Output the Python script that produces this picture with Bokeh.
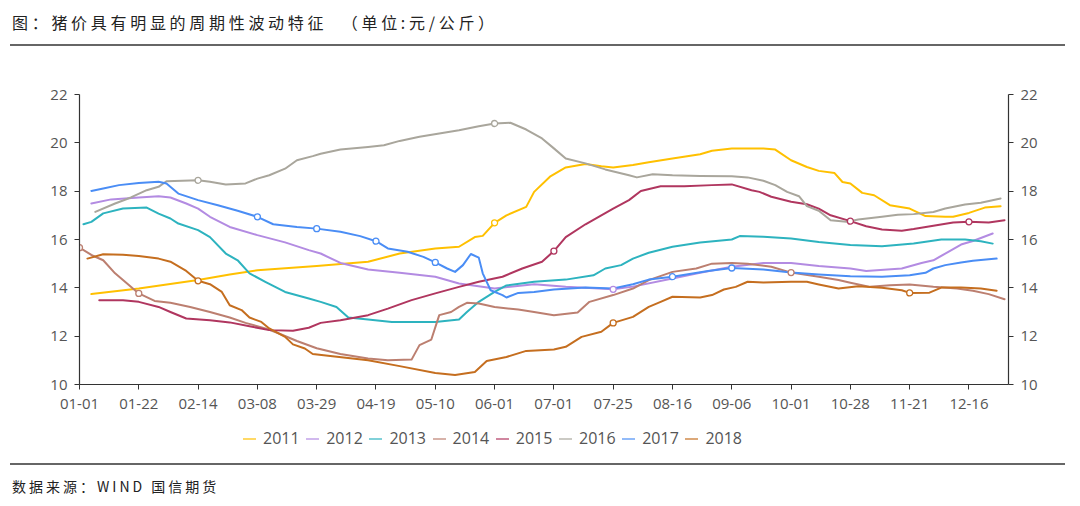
import numpy as np
from bokeh.plotting import figure
from bokeh.layouts import column
from bokeh.models import Range1d, LinearAxis, FixedTicker, ColumnDataSource, Div
from bokeh.embed import file_html
from bokeh.resources import INLINE

# ---------------- data ----------------
# x = trading-day index within the year (category axis, label every 15 days)
TICK_LABELS = ["01-01", "01-22", "02-14", "03-08", "03-29", "04-19", "05-10", "06-01",
               "07-01", "07-25", "08-16", "09-06", "10-01", "10-28", "11-21", "12-16"]
TICK_STEP = 15
N_DAYS = 236

YEARS = ["2011", "2012", "2013", "2014", "2015", "2016", "2017", "2018"]

X_2011 = [3, 15, 30, 38, 45, 60, 73, 81, 90, 96, 100, 102, 105, 108, 113, 115, 119, 123, 128, 132,
          135, 140, 144, 150, 157, 160, 165, 173, 176, 180, 184, 187, 191, 193, 195, 198, 201, 205, 210, 214,
          219, 221, 225, 229, 233]
Y_2011 = [13.74, 13.97, 14.32, 14.55, 14.73, 14.9, 15.08, 15.42, 15.63, 15.7, 16.1, 16.15, 16.69, 17.0, 17.35,
          17.97, 18.6, 18.98, 19.12, 19.03, 18.98, 19.08, 19.2, 19.35, 19.53, 19.67, 19.77, 19.77, 19.72, 19.28,
          19.0, 18.84, 18.75, 18.38, 18.32, 17.93, 17.83, 17.42, 17.28, 16.97, 16.94, 16.94, 17.1, 17.32, 17.38]

X_2012 = [3, 8, 15, 20, 23, 27, 30, 33, 38, 45, 52, 58, 61, 66, 73, 81, 90, 96, 105, 115,
          123, 135, 140, 150, 157, 165, 173, 180, 187, 195, 199, 208, 213, 216, 219, 223, 226, 231]
Y_2012 = [17.49, 17.66, 17.74, 17.79, 17.74, 17.49, 17.28, 16.94, 16.52, 16.18, 15.88, 15.56, 15.42, 15.03,
          14.76, 14.62, 14.46, 14.18, 13.97, 14.15, 14.04, 13.94, 14.05, 14.39, 14.62, 14.87, 15.03, 15.03,
          14.9, 14.8, 14.7, 14.8, 15.03, 15.14, 15.42, 15.79, 15.94, 16.25]

X_2013 = [1, 3, 6, 11, 17, 20, 23, 25, 30, 33, 37, 40, 43, 47, 52, 58, 61, 65, 68, 73,
          79, 90, 96, 98, 101, 105, 108, 115, 123, 130, 133, 137, 140, 144, 150, 157, 165, 167, 173, 180,
          187, 195, 203, 211, 218, 224, 228, 231]
Y_2013 = [16.63, 16.73, 17.08, 17.28, 17.32, 17.07, 16.87, 16.66, 16.39, 16.1, 15.42, 15.14, 14.6, 14.25,
          13.83, 13.56, 13.42, 13.21, 12.77, 12.69, 12.59, 12.59, 12.69, 13.0, 13.42, 13.83, 14.1, 14.25,
          14.34, 14.52, 14.8, 14.94, 15.21, 15.45, 15.7, 15.88, 16.0, 16.14, 16.11, 16.04, 15.9, 15.77,
          15.72, 15.83, 16.0, 16.0, 15.93, 15.83]

X_2014 = [0, 3, 6, 9, 11, 15, 19, 23, 28, 33, 38, 42, 47, 50, 55, 60, 66, 73, 78, 84,
          86, 89, 91, 94, 96, 98, 101, 105, 111, 115, 120, 126, 129, 135, 140, 144, 150, 156, 160, 165,
          169, 175, 180, 187, 192, 195, 200, 205, 210, 216, 222, 226, 230, 234]
Y_2014 = [15.66, 15.36, 15.14, 14.6, 14.32, 13.77, 13.46, 13.38, 13.21, 13.0, 12.77, 12.55, 12.32, 12.14,
          11.8, 11.5, 11.26, 11.08, 11.0, 11.03, 11.63, 11.86, 12.87, 13.0, 13.21, 13.38, 13.35, 13.21, 13.1,
          13.0, 12.87, 12.98, 13.42, 13.7, 13.97, 14.32, 14.66, 14.8, 15.0, 15.03, 15.0, 14.87, 14.63, 14.46,
          14.32, 14.21, 14.04, 14.11, 14.14, 14.04, 13.97, 13.88, 13.74, 13.53]

X_2015 = [5, 11, 15, 20, 23, 27, 33, 38, 43, 48, 54, 58, 61, 66, 73, 78, 84, 90, 96, 101,
          107, 112, 117, 120, 123, 128, 132, 135, 139, 142, 147, 153, 160, 165, 170, 172, 175, 180, 184, 187,
          190, 195, 199, 203, 208, 211, 216, 221, 225, 230, 234]
Y_2015 = [13.49, 13.49, 13.42, 13.21, 13.0, 12.73, 12.66, 12.57, 12.41, 12.25, 12.22, 12.35, 12.55, 12.66,
          12.87, 13.14, 13.49, 13.77, 14.04, 14.25, 14.46, 14.8, 15.08, 15.52, 16.1, 16.63, 17.0, 17.28, 17.63,
          18.01, 18.2, 18.2, 18.25, 18.28, 18.04, 17.97, 17.77, 17.56, 17.46, 17.28, 17.0, 16.76, 16.55, 16.41,
          16.36, 16.43, 16.57, 16.7, 16.73, 16.7, 16.8]

X_2016 = [4, 9, 13, 17, 20, 22, 26, 30, 33, 37, 42, 45, 48, 52, 55, 59, 61, 66, 73, 77,
          81, 86, 91, 96, 101, 105, 109, 113, 117, 120, 123, 128, 133, 139, 141, 145, 150, 157, 165, 169,
          173, 176, 179, 182, 184, 187, 190, 194, 197, 203, 207, 211, 216, 219, 224, 228, 233]
Y_2016 = [17.14, 17.49, 17.74, 18.04, 18.18, 18.41, 18.43, 18.45, 18.39, 18.28, 18.32, 18.52, 18.66, 18.93,
          19.28, 19.45, 19.55, 19.72, 19.83, 19.9, 20.08, 20.25, 20.39, 20.52, 20.69, 20.8, 20.83, 20.55, 20.18,
          19.77, 19.35, 19.15, 18.9, 18.66, 18.57, 18.7, 18.66, 18.63, 18.62, 18.57, 18.43, 18.25, 17.97, 17.79,
          17.38, 17.19, 16.8, 16.73, 16.83, 16.94, 17.02, 17.05, 17.14, 17.28, 17.45, 17.52, 17.7]

X_2017 = [3, 6, 10, 15, 20, 22, 25, 30, 35, 40, 45, 49, 55, 60, 66, 71, 75, 78, 83, 87,
          90, 93, 95, 97, 99, 101, 102, 104, 107, 108, 111, 115, 120, 128, 135, 140, 144, 150, 159, 165,
          173, 180, 187, 195, 203, 210, 214, 216, 219, 223, 226, 232]
Y_2017 = [18.01, 18.11, 18.25, 18.34, 18.39, 18.32, 17.9, 17.63, 17.42, 17.19, 16.94, 16.63, 16.52, 16.45,
          16.32, 16.14, 15.93, 15.63, 15.49, 15.28, 15.05, 14.8, 14.66, 14.94, 15.4, 15.25, 14.6, 13.9, 13.7,
          13.6, 13.79, 13.83, 13.93, 14.01, 13.97, 14.15, 14.34, 14.46, 14.7, 14.82, 14.76, 14.63, 14.55, 14.48,
          14.46, 14.52, 14.62, 14.8, 14.94, 15.05, 15.12, 15.21]

X_2018 = [2, 6, 11, 15, 20, 23, 27, 30, 33, 36, 38, 41, 43, 46, 48, 52, 54, 57, 59, 64,
          73, 81, 90, 95, 100, 103, 108, 113, 120, 123, 127, 132, 135, 140, 144, 147, 150, 157, 160, 163,
          166, 169, 173, 180, 184, 187, 192, 197, 203, 208, 210, 215, 218, 223, 228, 232]
Y_2018 = [15.21, 15.39, 15.37, 15.32, 15.21, 15.08, 14.7, 14.29, 14.15, 13.83, 13.28, 13.08, 12.77, 12.59,
          12.32, 11.97, 11.66, 11.49, 11.26, 11.17, 11.0, 10.76, 10.48, 10.39, 10.52, 10.97, 11.14, 11.39,
          11.45, 11.56, 11.97, 12.18, 12.55, 12.8, 13.21, 13.42, 13.63, 13.6, 13.7, 13.93, 14.04, 14.25, 14.22,
          14.25, 14.25, 14.14, 13.97, 14.07, 14.0, 13.9, 13.79, 13.8, 14.01, 14.01, 13.97, 13.88]

# tick positions (label index) where the source chart shows hollow symbols
MARKS = {"2011": [7], "2012": [9], "2013": [], "2014": [0, 1, 12], "2015": [8, 13, 15],
         "2016": [2, 7], "2017": [3, 4, 5, 6, 10, 11], "2018": [2, 9, 14]}

COLORS = {"2011": "#FFC000", "2012": "#B38BE2", "2013": "#2DB3BF", "2014": "#BC7F70",
          "2015": "#B0365F", "2016": "#A9A69C", "2017": "#4A8DF5", "2018": "#C56E1F"}

SERIES = {"2011": (X_2011, Y_2011), "2012": (X_2012, Y_2012), "2013": (X_2013, Y_2013),
          "2014": (X_2014, Y_2014), "2015": (X_2015, Y_2015), "2016": (X_2016, Y_2016),
          "2017": (X_2017, Y_2017), "2018": (X_2018, Y_2018)}

TITLE = "图：猪价具有明显的周期性波动特征  （单位:元/公斤）"
SOURCE = "数据来源：WIND 国信期货"

# ---------------- figure ----------------
W = 1080
FONT = "Open Sans"
CJK = "'Noto Sans CJK SC'"

p = figure(width=W, height=374, output_backend="svg", toolbar_location=None,
           x_range=Range1d(0, N_DAYS - 1), y_range=Range1d(10, 22),
           min_border_left=79, min_border_right=72, min_border_top=48, min_border_bottom=36)
p.outline_line_color = None
p.xgrid.visible = False
p.ygrid.visible = False

def style_axis(ax):
    ax.axis_line_color = "#333333"
    ax.axis_line_width = 1.2
    ax.major_tick_line_color = "#333333"
    ax.major_tick_out = 5
    ax.major_tick_in = 0
    ax.minor_tick_line_color = None
    ax.major_label_text_font = FONT
    ax.major_label_text_font_size = "15px"
    ax.major_label_text_color = "#555555"

YTICKS = [10, 12, 14, 16, 18, 20, 22]
p.yaxis.ticker = FixedTicker(ticks=YTICKS)
style_axis(p.yaxis[0])
p.yaxis.major_label_standoff = 7

ry = LinearAxis(ticker=FixedTicker(ticks=YTICKS))
style_axis(ry)
ry.major_label_standoff = 7
p.add_layout(ry, "right")

xt = [i * TICK_STEP for i in range(len(TICK_LABELS))]
p.xaxis.ticker = FixedTicker(ticks=xt)
p.xaxis.major_label_overrides = {t: lab for t, lab in zip(xt, TICK_LABELS)}
style_axis(p.xaxis[0])
p.xaxis.major_label_standoff = 9

for yr in YEARS:
    xs, ys = SERIES[yr]
    src = ColumnDataSource(dict(x=xs, y=ys))
    p.line("x", "y", source=src, line_color=COLORS[yr], line_width=2,
           line_join="round", line_cap="round")

for yr in YEARS:
    xs, ys = SERIES[yr]
    mx = [k * TICK_STEP for k in MARKS[yr]]
    if not mx:
        continue
    my = list(np.interp(mx, xs, ys))
    p.scatter(mx, my, size=6, marker="circle", fill_color="white",
              line_color=COLORS[yr], line_width=1.3)

# ---------------- legend (HTML row under the axis) ----------------
LEG_X0, LEG_STEP = 243, 63.2
leg_items = []
for i, yr in enumerate(YEARS):
    leg_items.append(
        f'<span style="position:absolute;left:{LEG_X0 + i * LEG_STEP:.1f}px;top:7px;'
        f'white-space:nowrap;font-family:\'Open Sans\';font-size:16px;color:#555555;line-height:22px">'
        f'<span style="display:inline-block;width:13px;height:0;border-top:2.5px solid {COLORS[yr]};'
        f'opacity:0.6;vertical-align:middle;margin-right:7px;position:relative;top:-1px"></span>{yr}</span>')
legend_div = Div(text='<div style="position:relative;width:1080px;height:43px">' + "".join(leg_items) + "</div>",
                 width=W, height=43, margin=(0, 0, 0, 0))

title_div = Div(text=TITLE, width=1055, height=46, margin=(0, 0, 0, 10),
                styles={"font-family": CJK, "font-size": "16px", "color": "#222222",
                        "letter-spacing": "3.7px", "border-bottom": "2px solid #666666",
                        "padding-top": "11px", "padding-left": "2px", "box-sizing": "border-box",
                        "white-space": "pre"})
source_div = Div(text=SOURCE, width=1055, height=43, margin=(0, 0, 0, 10),
                 styles={"font-family": CJK, "font-size": "14px", "color": "#222222",
                         "letter-spacing": "3px", "border-top": "2px solid #666666",
                         "padding-top": "11px", "padding-left": "2px", "box-sizing": "border-box",
                         "white-space": "pre"})

layout = column(title_div, p, legend_div, source_div, spacing=0)
open("out.html", "w").write(file_html(layout, INLINE))
